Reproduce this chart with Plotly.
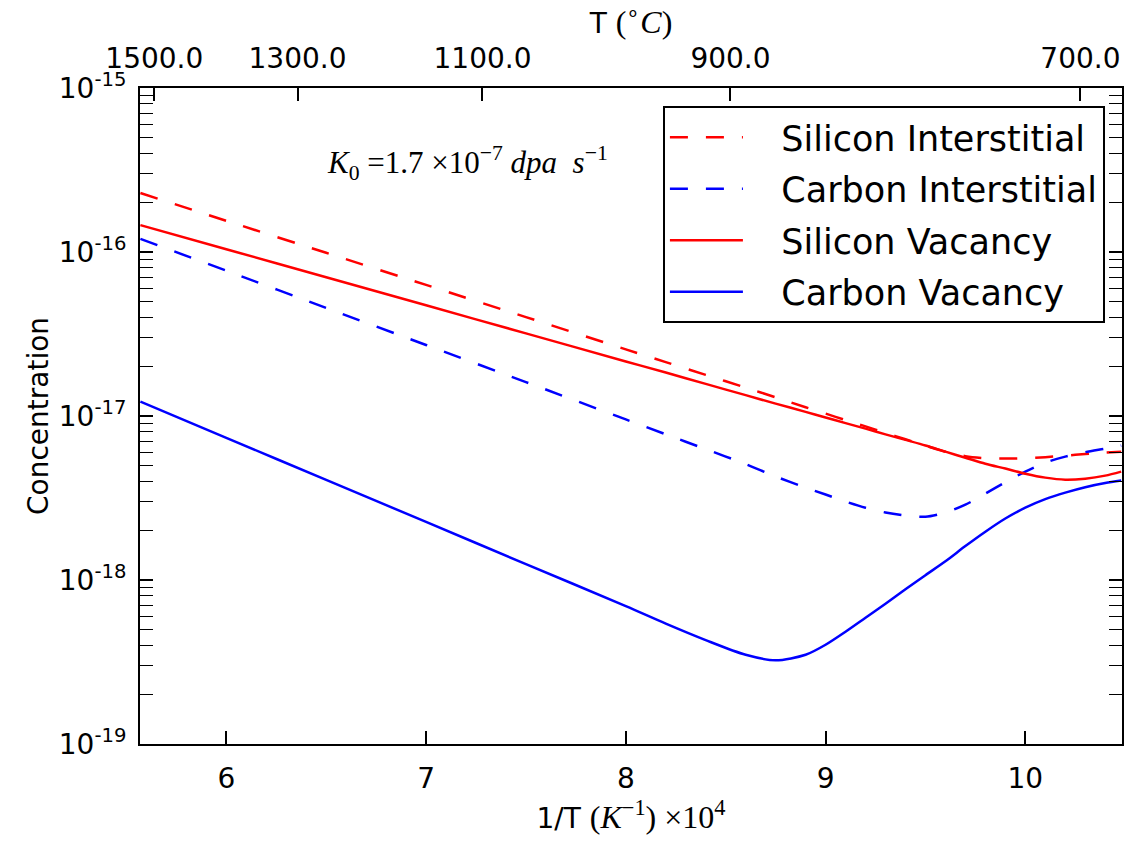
import plotly.graph_objects as go

# Inverse temperature, 1/T in units of 1e-4 K^-1
inv_T = [5.57, 6.0, 6.5, 7.0, 7.5, 8.0, 8.2, 8.4, 8.6, 8.75, 8.9, 9.0, 9.1,
         9.2, 9.3, 9.4, 9.5, 9.6, 9.7, 9.8, 9.9, 10.0, 10.1, 10.2, 10.3,
         10.4, 10.48]

# Steady-state defect concentrations
si_interstitial = [2.29e-16, 1.55e-16, 9.89e-17, 6.30e-17, 4.01e-17, 2.55e-17,
                   2.13e-17, 1.78e-17, 1.49e-17, 1.30e-17, 1.13e-17, 1.035e-17,
                   9.44e-18, 8.65e-18, 7.89e-18, 7.21e-18, 6.60e-18, 6.06e-18,
                   5.69e-18, 5.53e-18, 5.50e-18, 5.53e-18, 5.61e-18, 5.73e-18,
                   5.86e-18, 5.98e-18, 6.06e-18]
c_interstitial = [1.202e-16, 7.69e-17, 4.56e-17, 2.71e-17, 1.61e-17, 9.53e-18,
                  7.73e-18, 6.28e-18, 5.09e-18, 4.28e-18, 3.66e-18, 3.32e-18,
                  3.01e-18, 2.76e-18, 2.58e-18, 2.47e-18, 2.43e-18, 2.58e-18,
                  2.88e-18, 3.36e-18, 3.95e-18, 4.58e-18, 5.20e-18, 5.65e-18,
                  6.02e-18, 6.33e-18, 6.60e-18]
si_vacancy = [1.459e-16, 1.04e-16, 7.01e-17, 4.73e-17, 3.19e-17, 2.15e-17,
              1.84e-17, 1.57e-17, 1.34e-17, 1.19e-17, 1.06e-17, 9.79e-18,
              9.05e-18, 8.37e-18, 7.73e-18, 7.15e-18, 6.61e-18, 6.06e-18,
              5.57e-18, 5.12e-18, 4.78e-18, 4.45e-18, 4.21e-18, 4.09e-18,
              4.15e-18, 4.33e-18, 4.58e-18]
c_vacancy = [1.225e-17, 7.36e-18, 4.08e-18, 2.26e-18, 1.25e-18, 6.93e-19,
             5.42e-19, 4.30e-19, 3.50e-19, 3.24e-19, 3.50e-19, 4.03e-19,
             4.84e-19, 5.89e-19, 7.17e-19, 8.79e-19, 1.07e-18, 1.30e-18,
             1.61e-18, 1.97e-18, 2.37e-18, 2.76e-18, 3.11e-18, 3.41e-18,
             3.68e-18, 3.90e-18, 4.04e-18]

# Axis ticks
x_ticks = [6, 7, 8, 9, 10]
top_T_celsius = [1500.0, 1300.0, 1100.0, 900.0, 700.0]
y_decades = [-19, -18, -17, -16, -15]
x_range = [5.568, 10.484]

SANS = "DejaVu Sans"
SERIF = "Liberation Serif"
DASH = "18px,18px"

fig = go.Figure()

series = [
    ("Silicon Interstitial", si_interstitial, "#ff0000", DASH),
    ("Carbon Interstitial", c_interstitial, "#0000ff", DASH),
    ("Silicon Vacancy", si_vacancy, "#ff0000", "solid"),
    ("Carbon Vacancy", c_vacancy, "#0000ff", "solid"),
]
for name, values, color, dash in series:
    fig.add_trace(go.Scatter(
        x=inv_T, y=values, name="&nbsp;&nbsp;&nbsp;" + name, mode="lines",
        legendgroup=name,
        line=dict(color=color, width=2.5, dash=dash, shape="spline", smoothing=0.8),
    ))

# Top axis: temperature in Celsius at the matching 1/T positions
top_positions = [1e4 / (t + 273.15) for t in top_T_celsius]
fig.add_trace(go.Scatter(
    x=top_positions, y=[None] * len(top_positions), xaxis="x2", mode="lines",
    showlegend=False, hoverinfo="skip",
))

minor_vals = [m * 10.0 ** d for d in y_decades[:-1] for m in range(2, 10)]

axis_common = dict(
    showline=True, linecolor="black", linewidth=2,
    ticks="inside", ticklen=13, tickwidth=1.5, tickcolor="black",
    showgrid=False, zeroline=False,
    tickfont=dict(family=SANS, size=28, color="black"),
)

fig.update_layout(
    width=1136, height=841,
    margin=dict(l=140, r=12, t=88, b=97),
    paper_bgcolor="white", plot_bgcolor="white",
    font=dict(family=SANS, size=28, color="black"),
    xaxis=dict(
        range=x_range, tickvals=x_ticks, ticktext=[str(v) for v in x_ticks],
        mirror=True, ticklabelstandoff=8,
        title=dict(
            text="1/T <span style='font-family:Liberation Serif;font-size:32px'>(<i>K</i><sup>−1</sup>) ×10<sup>4</sup></span>",
            font=dict(family=SANS, size=28, color="black"), standoff=14,
        ),
        **axis_common,
    ),
    xaxis2=dict(
        overlaying="x", side="top", anchor="y", range=x_range,
        tickvals=top_positions, ticktext=[f"{t:.1f}" for t in top_T_celsius],
        ticklabelstandoff=7,
        title=dict(
            text="T <span style='font-family:Liberation Serif;font-size:32px'>(<sup>∘</sup><i>C</i>)</span>",
            font=dict(family=SANS, size=28, color="black"), standoff=6,
        ),
        **axis_common,
    ),
    yaxis=dict(
        type="log", range=[y_decades[0], y_decades[-1]],
        tickvals=[10.0 ** d for d in y_decades],
        ticktext=[f"10<sup>{d}</sup>" for d in y_decades],
        mirror="allticks", ticklabelstandoff=6,
        minor=dict(tickvals=minor_vals, ticks="inside", ticklen=7,
                   tickwidth=1.2, tickcolor="black"),
        title=dict(text="Concentration",
                   font=dict(family=SANS, size=28, color="black"), standoff=2),
        **axis_common,
    ),
    legend=dict(
        x=0.5325, y=0.9726, xanchor="left", yanchor="top",
        bgcolor="white", bordercolor="black", borderwidth=2,
        font=dict(family=SANS, size=35, color="black"),
        itemwidth=73, traceorder="grouped", tracegroupgap=3,
    ),
    annotations=[dict(
        text="<i>K</i><sub>0</sub> =1.7 ×10<sup>−7</sup> <i>dpa</i>  <i>s</i><sup>−1</sup>",
        xref="paper", yref="paper", x=0.3333, y=0.8857,
        xanchor="center", yanchor="middle", showarrow=False,
        font=dict(family=SERIF, size=31, color="black"),
    )],
)

fig.write_html("out.html")
